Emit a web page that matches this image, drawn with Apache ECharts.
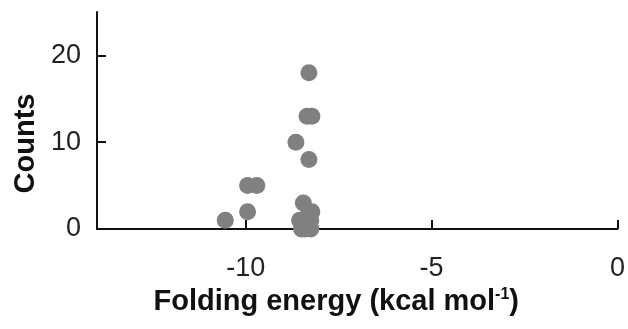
<!DOCTYPE html>
<html lang="en">
<head>
    <meta charset="UTF-8">
    <title>Folding energy</title>
    <style>
        html, body { margin: 0; padding: 0; background: #fff; }
        #chart { width: 628px; height: 329px; }
    </style>
    <script src="https://cdn.jsdelivr.net/npm/echarts@6/dist/echarts.min.js"></script>
</head>
<body>
<div id="chart"></div>
<script>
    // values
    var energy = [-10.55, -9.95, -9.95, -9.7, -8.65, -8.3, -8.35, -8.22, -8.3, -8.45, -8.22, -8.35, -8.25, -8.55, -8.5, -8.4, -8.25];
    var counts = [1, 2, 5, 5, 10, 18, 13, 13, 8, 3, 2, 1.4, 1, 1, 0, 0, 0];
    var xTicks = [-10, -5, 0];

    var data = [];
    for (var i = 0; i < energy.length; i++) {
        data.push([energy[i], counts[i]]);
    }

    var myChart = echarts.init(document.getElementById('chart'));
    var font = 'Liberation Sans, Arial, sans-serif';
    var option = {
        backgroundColor: '#fff',
        animation: false,
        grid: { left: 97, right: 9, top: 12, bottom: 100 },
        xAxis: {
            type: 'value',
            min: -14,
            max: 0,
            splitLine: { show: false },
            axisLine: { onZero: false, lineStyle: { color: '#111', width: 2 } },
            axisTick: { inside: true, length: 9, customValues: xTicks, lineStyle: { color: '#111', width: 2 } },
            axisLabel: { customValues: xTicks, margin: 26, fontSize: 27, color: '#222', fontFamily: font },
            name: '{a|Folding energy (kcal mol}{s|-1}{a|)}',
            nameLocation: 'middle',
            nameGap: 58,
            nameTextStyle: {
                padding: [0, 42, 0, 0],
                rich: {
                    a: { fontSize: 29, fontWeight: 'bold', color: '#111', fontFamily: font },
                    s: { fontSize: 16, fontWeight: 'bold', color: '#111', fontFamily: font, verticalAlign: 'top', padding: [0, 0, 12, 0] }
                }
            }
        },
        yAxis: {
            type: 'value',
            min: 0,
            max: 25,
            interval: 10,
            splitLine: { show: false },
            axisLine: { show: true, onZero: false, lineStyle: { color: '#111', width: 2 } },
            axisTick: { show: true, inside: true, length: 9, lineStyle: { color: '#111', width: 2 } },
            axisLabel: { margin: 16, fontSize: 27, color: '#222', fontFamily: font, showMaxLabel: false },
            name: 'Counts',
            nameLocation: 'middle',
            nameGap: 56,
            nameTextStyle: { fontSize: 29, fontWeight: 'bold', color: '#111', fontFamily: font, padding: [0, 46, 0, 0] }
        },
        series: [{
            type: 'scatter',
            data: data,
            symbolSize: 17,
            itemStyle: { color: '#808080', opacity: 1 }
        }]
    };
    myChart.setOption(option);
</script>
</body>
</html>
